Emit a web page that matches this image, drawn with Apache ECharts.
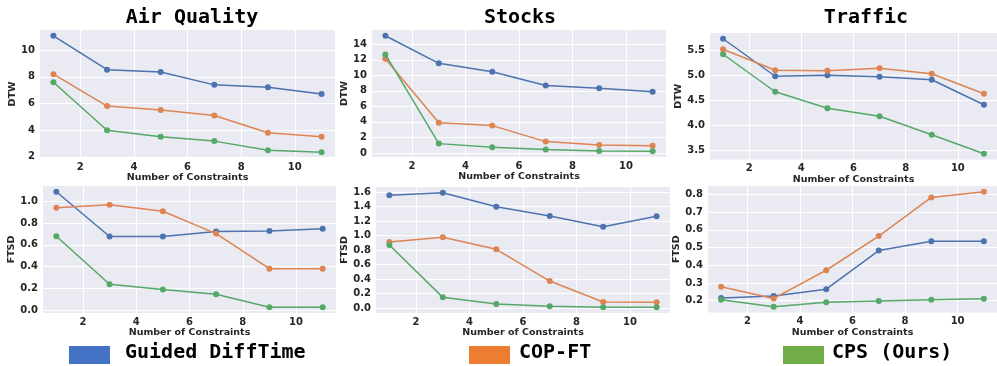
<!DOCTYPE html>
<html>
<head>
<meta charset="utf-8">
<script src="https://cdn.jsdelivr.net/npm/echarts@6/dist/echarts.min.js"></script>
<style>
  html, body { margin: 0; padding: 0; background: #ffffff; }
  #chart { width: 997px; height: 366px; }
</style>
</head>
<body>
<div id="chart"></div>
<script>
// Number of constraints on the x axis of every panel
const constraints = [1, 3, 5, 7, 9, 11];
const methods = ['Guided DiffTime', 'COP-FT', 'CPS (Ours)'];
const datasets = ['Air Quality', 'Stocks', 'Traffic'];

// DTW (top row)
const airDtwGuided = [11.08, 8.54, 8.37, 7.40, 7.22, 6.72];
const airDtwCop    = [8.20, 5.81, 5.51, 5.10, 3.81, 3.51];
const airDtwCps    = [7.60, 4.00, 3.51, 3.18, 2.50, 2.35];

const stocksDtwGuided = [15.10, 11.55, 10.47, 8.70, 8.33, 7.90];
const stocksDtwCop    = [12.15, 3.90, 3.52, 1.46, 1.03, 0.94];
const stocksDtwCps    = [12.70, 1.20, 0.73, 0.43, 0.26, 0.22];

const trafficDtwGuided = [5.73, 4.98, 5.00, 4.97, 4.91, 4.41];
const trafficDtwCop    = [5.52, 5.10, 5.09, 5.14, 5.03, 4.63];
const trafficDtwCps    = [5.42, 4.67, 4.34, 4.18, 3.81, 3.43];

// FTSD (bottom row)
const airFtsdGuided = [1.090, 0.677, 0.677, 0.723, 0.729, 0.748];
const airFtsdCop    = [0.942, 0.970, 0.910, 0.704, 0.381, 0.381];
const airFtsdCps    = [0.680, 0.237, 0.188, 0.145, 0.025, 0.025];

const stocksFtsdGuided = [1.554, 1.590, 1.397, 1.270, 1.120, 1.265];
const stocksFtsdCop    = [0.910, 0.975, 0.810, 0.372, 0.083, 0.078];
const stocksFtsdCps    = [0.869, 0.147, 0.055, 0.023, 0.010, 0.010];

const trafficFtsdGuided = [0.215, 0.227, 0.265, 0.483, 0.536, 0.536];
const trafficFtsdCop    = [0.279, 0.213, 0.372, 0.565, 0.783, 0.815];
const trafficFtsdCps    = [0.205, 0.166, 0.191, 0.198, 0.205, 0.211];

// Tick values
const xTicks = [2, 4, 6, 8, 10];
const airDtwTicks = [2, 4, 6, 8, 10];
const stocksDtwTicks = [0, 2, 4, 6, 8, 10, 12, 14];
const trafficDtwTicks = [3.5, 4.0, 4.5, 5.0, 5.5];
const airFtsdTicks = [0.0, 0.2, 0.4, 0.6, 0.8, 1.0];
const stocksFtsdTicks = [0.0, 0.2, 0.4, 0.6, 0.8, 1.0, 1.2, 1.4, 1.6];
const trafficFtsdTicks = [0.2, 0.3, 0.4, 0.5, 0.6, 0.7, 0.8];

const lineColors = ['#4C72B0', '#DD8452', '#55A868'];
const patchColors = ['#4472C4', '#ED7D31', '#70AD47'];
const textColor = '#262626';
const sansBold = 'DejaVu Sans';
const mono = 'DejaVu Sans Mono';

const panels = [
  { series: [airDtwGuided, airDtwCop, airDtwCps], ticks: airDtwTicks, fmt: v => String(v), yName: 'DTW',
    grid: { left: 40, top: 30, width: 295, height: 128 }, nameGap: 15 },
  { series: [stocksDtwGuided, stocksDtwCop, stocksDtwCps], ticks: stocksDtwTicks, fmt: v => String(v), yName: 'DTW',
    grid: { left: 372, top: 30, width: 294, height: 127 }, nameGap: 17 },
  { series: [trafficDtwGuided, trafficDtwCop, trafficDtwCps], ticks: trafficDtwTicks, fmt: v => v.toFixed(1), yName: 'DTW',
    grid: { left: 710, top: 33, width: 293, height: 126.5 }, nameGap: 21 },
  { series: [airFtsdGuided, airFtsdCop, airFtsdCps], ticks: airFtsdTicks, fmt: v => v.toFixed(1), yName: 'FTSD',
    grid: { left: 43, top: 186, width: 293, height: 127 }, nameGap: 20 },
  { series: [stocksFtsdGuided, stocksFtsdCop, stocksFtsdCps], ticks: stocksFtsdTicks, fmt: v => v.toFixed(1), yName: 'FTSD',
    grid: { left: 376, top: 187, width: 294, height: 126 }, nameGap: 21 },
  { series: [trafficFtsdGuided, trafficFtsdCop, trafficFtsdCps], ticks: trafficFtsdTicks, fmt: v => v.toFixed(1), yName: 'FTSD',
    grid: { left: 708, top: 186, width: 294, height: 126.5 }, nameGap: 19 }
];

// Axis limits padded by 5% of the data span on each side
function paddedRange(arrays) {
  const all = [].concat(...arrays);
  const lo = Math.min(...all), hi = Math.max(...all);
  const pad = (hi - lo) * 0.05;
  return [lo - pad, hi + pad];
}
const xLo = constraints[0], xHi = constraints[constraints.length - 1];
const xPad = (xHi - xLo) * 0.05;

const grids = [], xAxes = [], yAxes = [], series = [], titles = [];

panels.forEach((p, i) => {
  grids.push(Object.assign({ show: true, backgroundColor: '#EAEAF2', borderWidth: 0, containLabel: false }, p.grid));
  const [yMin, yMax] = paddedRange(p.series);
  xAxes.push({
    type: 'value', gridIndex: i, min: xLo - xPad, max: xHi + xPad,
    name: 'Number of Constraints', nameLocation: 'middle', nameGap: i < 3 ? 14 : 15,
    nameTextStyle: { fontFamily: sansBold, fontWeight: 'bold', fontSize: 9.5, color: textColor },
    axisLine: { show: false },
    axisTick: { show: false, customValues: xTicks },
    axisLabel: { customValues: xTicks, fontFamily: sansBold, fontWeight: 'bold', fontSize: 10, color: textColor, margin: 4 },
    splitLine: { show: true, lineStyle: { color: '#ffffff', width: 1 } }
  });
  yAxes.push({
    type: 'value', gridIndex: i, min: yMin, max: yMax,
    name: p.yName, nameLocation: 'middle', nameGap: p.nameGap, nameRotate: 90,
    nameTextStyle: { fontFamily: sansBold, fontWeight: 'bold', fontSize: 9.5, color: textColor },
    axisLine: { show: false },
    axisTick: { show: false, customValues: p.ticks },
    axisLabel: { customValues: p.ticks, formatter: p.fmt, fontFamily: sansBold, fontWeight: 'bold', fontSize: 10, color: textColor, margin: 5 },
    splitLine: { show: true, lineStyle: { color: '#ffffff', width: 1 } }
  });
  p.series.forEach((vals, k) => {
    series.push({
      type: 'line', name: methods[k], xAxisIndex: i, yAxisIndex: i,
      data: constraints.map((c, j) => [c, vals[j]]),
      symbol: 'circle', symbolSize: 6, showSymbol: true,
      lineStyle: { color: lineColors[k], width: 1.5 },
      itemStyle: { color: lineColors[k] },
      z: 2 + k
    });
  });
});

// Panel titles above the top row
const titleCenters = [187, 515, 861];
datasets.forEach((name, i) => {
  titles.push({
    text: name, left: titleCenters[i], top: 3, textAlign: 'center',
    textStyle: { fontFamily: mono, fontWeight: 'bold', fontSize: 20, color: '#000000' }
  });
});

// Figure legend along the bottom
const legendPatchX = [69, 469, 783];
const legendTextX = [125, 519, 832];
const legendGraphics = [];
methods.forEach((name, k) => {
  legendGraphics.push({
    type: 'rect', left: legendPatchX[k], top: 346, shape: { width: 41, height: 18 },
    style: { fill: patchColors[k] }
  });
  legendGraphics.push({
    type: 'text', left: legendTextX[k], top: 343,
    style: { text: name, font: 'bold 20px "DejaVu Sans Mono"', fill: '#000000' }
  });
});

const chart = echarts.init(document.getElementById('chart'), null, { renderer: 'canvas' });
chart.setOption({
  animation: false,
  backgroundColor: '#ffffff',
  title: titles,
  grid: grids,
  xAxis: xAxes,
  yAxis: yAxes,
  series: series,
  graphic: legendGraphics
});
</script>
</body>
</html>
